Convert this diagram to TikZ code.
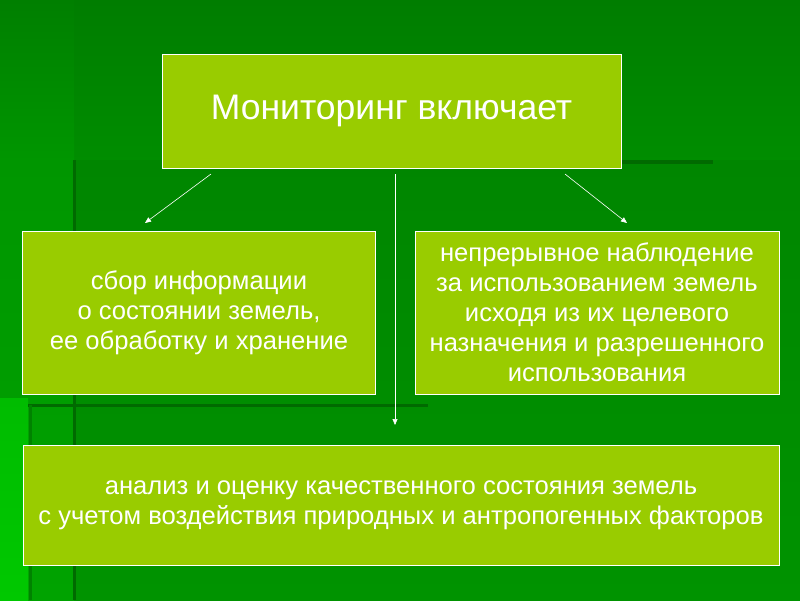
\documentclass[tikz,border=0pt]{standalone}
\usepackage{fontspec}
\setmainfont{Liberation Sans}
\usetikzlibrary{arrows.meta}
\definecolor{boxfill}{HTML}{99CC00}
\definecolor{bgtop}{HTML}{007D00}
\definecolor{bgmid}{HTML}{008D00}
\definecolor{lefttop}{HTML}{007F00}
\definecolor{leftmid}{HTML}{009600}
\definecolor{leftbot}{HTML}{00A300}
\definecolor{maintop}{HTML}{008600}
\definecolor{mainbot}{HTML}{009300}
\definecolor{brighttop}{HTML}{00BC00}
\definecolor{brightbot}{HTML}{00C800}
\definecolor{darkline}{HTML}{006A00}
\definecolor{midline}{HTML}{008200}
\tikzset{
  greenbox/.style={draw=white, line width=0.8pt, fill=boxfill, text=white, align=center, inner sep=0pt},
  bodytext/.style={font=\fontsize{25.6}{30}\selectfont},
  titletext/.style={font=\fontsize{35.5}{42}\selectfont},
  linkarrow/.style={draw=white, line width=0.6pt, -{Triangle[length=6pt,width=5pt]}},
}
\begin{document}
\begin{tikzpicture}[x=1pt,y=-1pt]
\useasboundingbox (0,0) rectangle (800,600);
% background
\shade[top color=bgtop, bottom color=bgmid] (0,0) rectangle (800,161);
\shade[top color=lefttop, bottom color=leftmid] (0,0) rectangle (74,161);
\shade[top color=leftmid, bottom color=leftbot] (0,160) rectangle (74,600);
\shade[top color=maintop, bottom color=mainbot] (74,160) rectangle (800,600);
\shade[top color=brighttop, bottom color=brightbot] (0,398) rectangle (28,600);
\fill[darkline] (73,160) rectangle (76,600);
\fill[darkline] (621,160) rectangle (713,164);
\fill[darkline] (28,404) rectangle (428,407);
\fill[midline] (29,405) rectangle (32,600);
% boxes
\node[greenbox, titletext, minimum width=459pt, minimum height=114pt] (top) at (391.5,111) {Мониторинг включает};
\node[greenbox, bodytext, minimum width=353pt, minimum height=163pt] (left) at (199,312.5)
  {сбор информации\\ о состоянии земель,\\ ее обработку и хранение};
\node[greenbox, bodytext, minimum width=364pt, minimum height=163pt] (right) at (597,312.5)
  {непрерывное наблюдение\\ за использованием земель\\ исходя из их целевого\\ назначения и разрешенного\\ использования};
\node[greenbox, bodytext, minimum width=756pt, minimum height=120pt] (bottom) at (401,505)
  {анализ и оценку качественного состояния земель\\ с учетом воздействия природных и антропогенных факторов};
% connectors
\coordinate (l1) at (211,174);
\coordinate (l2) at (145,223);
\coordinate (c1) at (395,174);
\coordinate (c2) at (395,425);
\coordinate (r1) at (565,174);
\coordinate (r2) at (627,223);
\draw[linkarrow] (l1) -- (l2);
\draw[linkarrow] (c1) -- (c2);
\draw[linkarrow] (r1) -- (r2);
\end{tikzpicture}
\end{document}
